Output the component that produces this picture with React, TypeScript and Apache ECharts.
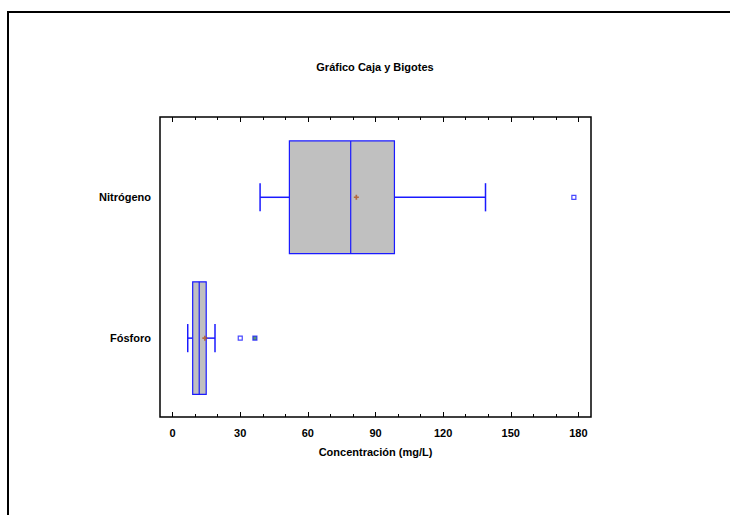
import React, { useEffect, useRef } from "react";
import * as echarts from "echarts";

const categories = ["Fósforo", "Nitrógeno"];
// [min whisker, Q1, median, Q3, max whisker]
const boxStats = [
  [6.7, 8.9, 11.8, 14.9, 18.8],
  [38.8, 51.8, 79.0, 98.4, 138.8],
];
const means = [14.3, 81.5];
// [value, category index]
const outliers = [
  [30.0, 0],
  [36.5, 0],
  [178.0, 1],
];
const majorTicks = [0, 30, 60, 90, 120, 150, 180];
const minorTicks = [10, 20, 40, 50, 70, 80, 100, 110, 130, 140, 160, 170];

const FONT = '"Liberation Sans", Arial, sans-serif';
const FS = 11;
const BLUE = "#1a1aff";

export default function App() {
  const ref = useRef<HTMLDivElement>(null);
  useEffect(() => {
    if (!ref.current) return;
    const chart = echarts.init(ref.current, null, { renderer: "svg" });
    const xMin = -5.6;
    const xMax = 185.6;
    const baseX = {
      type: "value",
      min: xMin,
      max: xMax,
      axisLine: { show: false },
      splitLine: { show: false },
    };
    const mkAxis = (pos: string, ticks: number[], len: number, labels: boolean, extra: any = {}) => ({
      ...baseX,
      position: pos,
      axisTick: {
        show: true,
        inside: true,
        length: len,
        customValues: ticks,
        lineStyle: { color: "#000", width: 1 },
      },
      axisLabel: labels
        ? {
            show: true,
            customValues: majorTicks,
            color: "#000",
            fontWeight: "bold",
            fontSize: FS,
            fontFamily: FONT,
            margin: 10,
          }
        : { show: false },
      ...extra,
    });

    const boxData = boxStats.map((s, i) => [i + 1, ...s]);

    const option: any = {
      animation: false,
      backgroundColor: "#fff",
      graphic: [
        {
          type: "polyline",
          shape: { points: [[8, 515], [8, 12], [730, 12]] },
          style: { stroke: "#000", lineWidth: 2, fill: null },
        },
        {
          type: "text",
          x: 375,
          y: 67,
          style: {
            text: "Gráfico Caja y Bigotes",
            fill: "#000",
            font: `bold ${FS}px ${FONT}`,
            textAlign: "center",
            textVerticalAlign: "middle",
          },
        },
      ],
      grid: {
        left: 160,
        right: 139,
        top: 117,
        bottom: 98,
        show: true,
        borderColor: "#000",
        borderWidth: 1.5,
        backgroundColor: "transparent",
      },
      xAxis: [
        mkAxis("bottom", majorTicks, 5, true, {
          name: "Concentración (mg/L)",
          nameLocation: "middle",
          nameGap: 29,
          nameTextStyle: { color: "#000", fontWeight: "bold", fontSize: FS, fontFamily: FONT },
        }),
        mkAxis("bottom", minorTicks, 3, false),
        mkAxis("top", majorTicks, 5, false),
        mkAxis("top", minorTicks, 3, false),
      ],
      yAxis: {
        type: "value",
        min: 0.44,
        max: 2.57,
        axisLine: { show: false },
        axisTick: { show: false },
        splitLine: { show: false },
        axisLabel: {
          customValues: [1, 2],
          formatter: (v: number) => categories[Math.round(v) - 1] || "",
          color: "#000",
          fontWeight: "bold",
          fontSize: FS,
          fontFamily: FONT,
          margin: 9,
        },
      },
      series: [
        {
          type: "custom",
          xAxisIndex: 0,
          data: boxData,
          encode: { y: 0, x: [1, 2, 3, 4, 5] },
          renderItem: (params: any, api: any) => {
            const y = api.value(0);
            const mn = api.value(1);
            const q1 = api.value(2);
            const md = api.value(3);
            const q3 = api.value(4);
            const mx = api.value(5);
            const half = api.size([0, 0.4])[1];
            const cap = api.size([0, 0.1])[1];
            const pMin = api.coord([mn, y]);
            const pQ1 = api.coord([q1, y]);
            const pMd = api.coord([md, y]);
            const pQ3 = api.coord([q3, y]);
            const pMx = api.coord([mx, y]);
            const cy = pMd[1];
            const ls = { stroke: BLUE, lineWidth: 1.5 };
            return {
              type: "group",
              children: [
                { type: "line", shape: { x1: pMin[0], y1: cy, x2: pQ1[0], y2: cy }, style: ls },
                { type: "line", shape: { x1: pQ3[0], y1: cy, x2: pMx[0], y2: cy }, style: ls },
                { type: "line", shape: { x1: pMin[0], y1: cy - cap, x2: pMin[0], y2: cy + cap }, style: ls },
                { type: "line", shape: { x1: pMx[0], y1: cy - cap, x2: pMx[0], y2: cy + cap }, style: ls },
                {
                  type: "rect",
                  shape: { x: pQ1[0], y: cy - half, width: pQ3[0] - pQ1[0], height: 2 * half },
                  style: { fill: "#c0c0c0", stroke: BLUE, lineWidth: 1.2 },
                },
                { type: "line", shape: { x1: pMd[0], y1: cy - half, x2: pMd[0], y2: cy + half }, style: { stroke: BLUE, lineWidth: 1.2 } },
              ],
            };
          },
        },
        {
          type: "scatter",
          xAxisIndex: 0,
          data: means.map((m, i) => [m, i + 1]),
          symbol: "path://M1,0H2V1H3V2H2V3H1V2H0V1H1Z",
          symbolSize: 5,
          itemStyle: { color: "#b0541e" },
          z: 5,
        },
        {
          type: "scatter",
          xAxisIndex: 0,
          data: outliers.map((o, i) => ({
            value: [o[0], o[1] + 1],
            itemStyle: { color: i === 1 ? "#2e7d4f" : "#fff" },
          })),
          symbol: "rect",
          symbolSize: 4,
          itemStyle: { borderColor: BLUE, borderWidth: 1.2 },
          z: 5,
        },
      ],
    };
    chart.setOption(option);
    return () => chart.dispose();
  }, []);
  return (
    <div
      ref={ref}
      style={{ position: "fixed", left: 0, top: 0, width: 730, height: 515, background: "#fff" }}
    />
  );
}
